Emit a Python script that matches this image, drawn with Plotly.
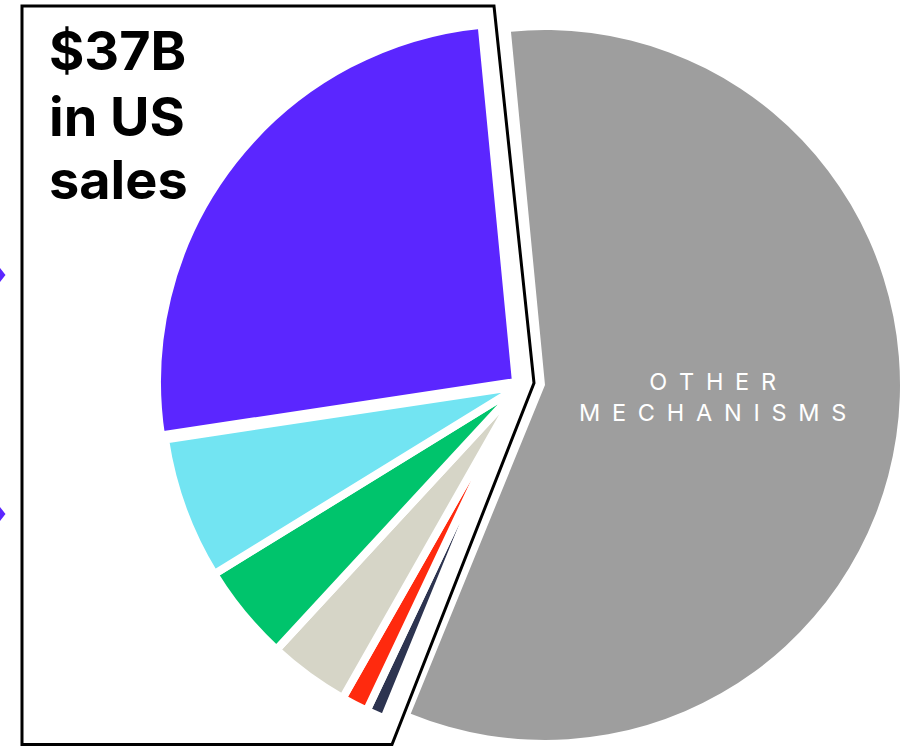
import plotly.graph_objects as go

# Share of US sales by mechanism (%), listed clockwise from 12 o'clock
segments = ["Other mechanisms", "Navy", "Red", "Beige", "Green", "Cyan", "Purple"]
shares = [57.7, 0.85, 1.2, 3.65, 4.35, 6.4, 25.85]
palette = ["#9e9e9e", "#2d3450", "#ff2a0e", "#d6d5c7", "#00c46c", "#72e4f2", "#5b26ff"]

headline_lines = ["$37B", "in US", "sales"]
other_label = "OTHER MECHANISMS"

W, H = 902, 746
CLEAR = "rgba(0,0,0,0)"
START_ANGLE = -5.5


def px_domain(cx, cy, r):
    """Square pie domain (paper units) centred at pixel (cx, cy) with radius r."""
    return dict(x=[(cx - r) / W, (cx + r) / W], y=[1 - (cy + r) / H, 1 - (cy - r) / H])


def px(x, y):
    return x / W, 1 - y / H


def spaced(word):
    return "\u2002".join(word)


def pie_layer(visible, domain, border):
    """One copy of the full pie in which only the slices in `visible` are painted."""
    return go.Pie(
        labels=segments, values=shares, sort=False, direction="clockwise",
        rotation=START_ANGLE,
        marker=dict(colors=[c if i in visible else CLEAR for i, c in enumerate(palette)],
                    line=dict(color="white",
                              width=[border if i in visible else 0 for i in range(len(shares))])),
        textinfo="none", hoverinfo="skip", showlegend=False, domain=domain,
    )


fig = go.Figure()
# Large slice, left in place
fig.add_trace(pie_layer({0}, px_domain(545, 385, 355), 0))
# Smaller mechanisms, shifted out to the left as a group
fig.add_trace(pie_layer({1, 2, 3, 4, 5}, px_domain(520, 386, 359), 8))
# Second-largest slice, pulled slightly further out
fig.add_trace(pie_layer({6}, px_domain(516, 382, 359), 8))

# Outline around the grouped slices
pts = [px(22, 6), px(494, 6), px(534, 383), px(392, 744.5), px(22, 744.5)]
path = "M " + " L ".join(f"{x:.5f},{y:.5f}" for x, y in pts) + " Z"
shapes = [dict(type="path", xref="paper", yref="paper", path=path,
               line=dict(color="black", width=3), fillcolor=CLEAR, layer="above")]

# Small pointer marks on the left edge
for yc in (275, 514):
    tri = [px(0, yc - 7), px(5.5, yc), px(0, yc + 7)]
    tpath = "M " + " L ".join(f"{x:.5f},{y:.5f}" for x, y in tri) + " Z"
    shapes.append(dict(type="path", xref="paper", yref="paper", path=tpath,
                       line=dict(width=0), fillcolor="#5b26ff", layer="above"))

ox, oy = px(712, 397)
annotations = [
    dict(x=ox, y=oy, xref="paper", yref="paper", showarrow=False,
         text="<br>".join(spaced(w) for w in other_label.split()),
         font=dict(family="Inter", size=23.5, color="white", weight=400),
         xanchor="center", yanchor="middle", align="center"),
]

# Headline, one line per annotation for tighter leading
for line, yc in zip(headline_lines, (50, 116, 180)):
    hx, hy = px(47, yc)
    annotations.append(dict(
        x=hx, y=hy, xref="paper", yref="paper", showarrow=False, text=line,
        font=dict(family="Inter", size=54, color="black", weight="bold"),
        xanchor="left", yanchor="middle", align="left"))

fig.update_layout(
    width=W, height=H, margin=dict(l=0, r=0, t=0, b=0),
    paper_bgcolor="white", plot_bgcolor="white",
    shapes=shapes, annotations=annotations, showlegend=False,
)

fig.write_html("out.html")
